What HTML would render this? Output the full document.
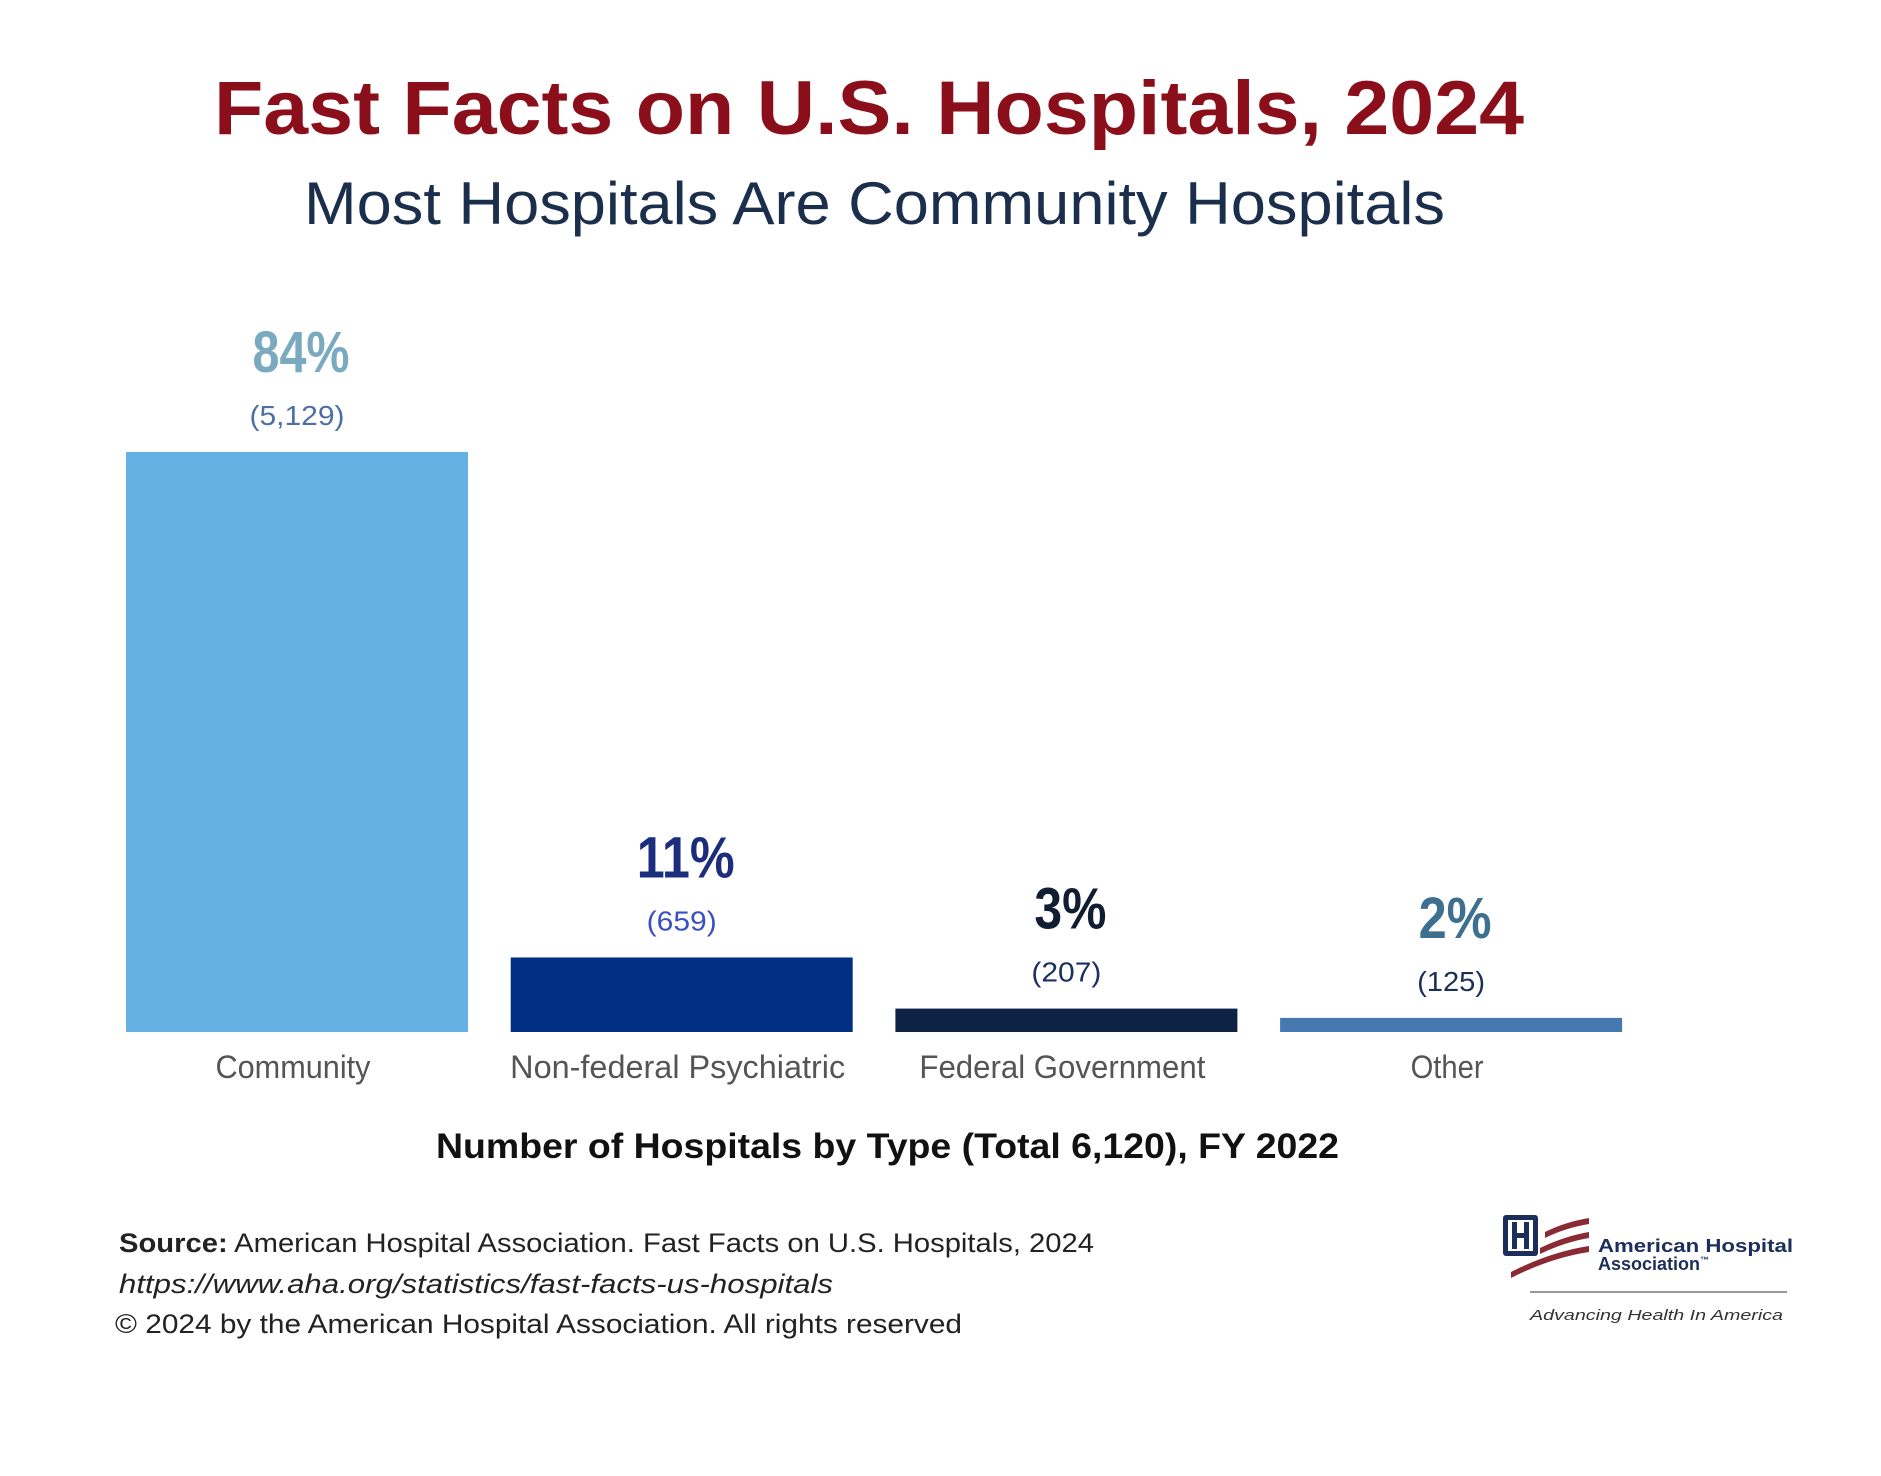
<!DOCTYPE html>
<html><head><meta charset="utf-8"><style>
html,body{margin:0;padding:0;background:#fff;}
svg{display:block;}
</style></head><body>
<svg id="chart" width="1881" height="1476" viewBox="0 0 1881 1476" xmlns="http://www.w3.org/2000/svg">
<rect width="1881" height="1476" fill="#ffffff"/>
<text x="214" y="134" font-family="Liberation Sans, sans-serif" font-weight="bold" font-size="76" fill="#8b0f1a" textLength="1310" lengthAdjust="spacingAndGlyphs">Fast Facts on U.S. Hospitals, 2024</text>
<text x="304" y="224" font-family="Liberation Sans, sans-serif" font-size="60" fill="#1b2f4d" textLength="1141" lengthAdjust="spacingAndGlyphs">Most Hospitals Are Community Hospitals</text>
<g id="bars"></g>
<text x="436" y="1158" font-family="Liberation Sans, sans-serif" font-weight="bold" font-size="35" fill="#111" textLength="903" lengthAdjust="spacingAndGlyphs">Number of Hospitals by Type (Total 6,120), FY 2022</text>
<g font-family="Liberation Sans, sans-serif" font-size="27" fill="#222">
<text x="119" y="1252" textLength="975" lengthAdjust="spacingAndGlyphs"><tspan font-weight="bold">Source:</tspan>  American Hospital Association.  Fast Facts on U.S. Hospitals, 2024</text>
<text x="119" y="1293" font-style="italic" textLength="714" lengthAdjust="spacingAndGlyphs">https://www.aha.org/statistics/fast-facts-us-hospitals</text>
<text x="115" y="1333" textLength="847" lengthAdjust="spacingAndGlyphs">© 2024 by the American Hospital Association. All rights reserved</text>
</g>
<g>
<rect x="1503" y="1215" width="35" height="41" rx="3" fill="#1b2f5a"/>
<rect x="1508" y="1220" width="25" height="31" fill="#fff"/>
<rect x="1512" y="1222" width="5" height="27" fill="#1b2f5a"/>
<rect x="1524" y="1222" width="5" height="27" fill="#1b2f5a"/>
<rect x="1512" y="1233" width="17" height="5" fill="#1b2f5a"/>
<path d="M1545 1232 Q1565 1222 1589 1218 L1589 1224 Q1565 1228 1545 1238 Z" fill="#8a2a35"/>
<path d="M1540 1248 Q1565 1236 1589 1232 L1589 1238 Q1565 1242 1540 1254 Z" fill="#8a2a35"/>
<path d="M1511 1272 Q1550 1252 1589 1246 L1589 1252 Q1550 1258 1511 1278 Z" fill="#8a2a35"/>
<text x="1598" y="1252" font-family="Liberation Sans, sans-serif" font-weight="bold" font-size="18" fill="#1b2f5a" textLength="195" lengthAdjust="spacingAndGlyphs">American Hospital</text>
<text x="1598" y="1270" font-family="Liberation Sans, sans-serif" font-weight="bold" font-size="18" fill="#1b2f5a">Association<tspan font-size="9" dy="-7">™</tspan></text>
<rect x="1530" y="1291" width="257" height="2" fill="#999"/>
<text x="1530" y="1320" font-family="Liberation Sans, sans-serif" font-style="italic" font-size="15" fill="#333" textLength="253" lengthAdjust="spacingAndGlyphs">Advancing Health In America</text>
</g>
</svg>
<script>
const categories = ["Community", "Non-federal Psychiatric", "Federal Government", "Other"];
const counts = [5129, 659, 207, 125];
const percentLabels = ["84%", "11%", "3%", "2%"];
const countLabels = ["(5,129)", "(659)", "(207)", "(125)"];

const NS = "http://www.w3.org/2000/svg";
const baseY = 1032, plotLeft = 126, bandStep = 384.7, barW = 342;
const pxPerUnit = 580 / 5129;
const barColors = ["#66b1e4", "#022f86", "#0d2244", "#4679b0"];
const pctColors = ["#7aaabf", "#1d2d7e", "#111d30", "#3d6f8e"];
const cntColors = ["#4d6fa8", "#3a4fc2", "#1b2f63", "#1b2f55"];
const catWidths = [155, 335, 286, 73];
const pctWidths = [97, 98, 72, 73];
const cntWidths = [95, 70, 70, 68];
function xScale(i) { return plotLeft + i * bandStep; }
function yScale(v) { return baseY - v * pxPerUnit; }
const g = document.getElementById("bars");
function txt(x, y, s, size, color, w, weight) {
  const t = document.createElementNS(NS, "text");
  t.setAttribute("x", x); t.setAttribute("y", y);
  t.setAttribute("text-anchor", "middle");
  t.setAttribute("font-family", "Liberation Sans, sans-serif");
  t.setAttribute("font-size", size);
  if (weight) t.setAttribute("font-weight", weight);
  t.setAttribute("fill", color);
  t.setAttribute("textLength", w);
  t.setAttribute("lengthAdjust", "spacingAndGlyphs");
  t.textContent = s;
  g.appendChild(t);
  return t;
}
categories.forEach((c, i) => {
  const x = xScale(i), top = yScale(counts[i]);
  const r = document.createElementNS(NS, "rect");
  r.setAttribute("x", x); r.setAttribute("y", top);
  r.setAttribute("width", barW); r.setAttribute("height", baseY - top);
  r.setAttribute("fill", barColors[i]);
  
  
  g.appendChild(r);
  const cx = x + barW / 2;
  const cnt = txt(cx, top - 27, countLabels[i], 28, cntColors[i], cntWidths[i]);
  
  
  const pct = txt(cx + 4, top - 80, percentLabels[i], 58, pctColors[i], pctWidths[i], "bold");
  
  
  const cat = txt(cx - 4, 1078, c, 32, "#555", catWidths[i]);
  
  
});
</script>
</body></html>
